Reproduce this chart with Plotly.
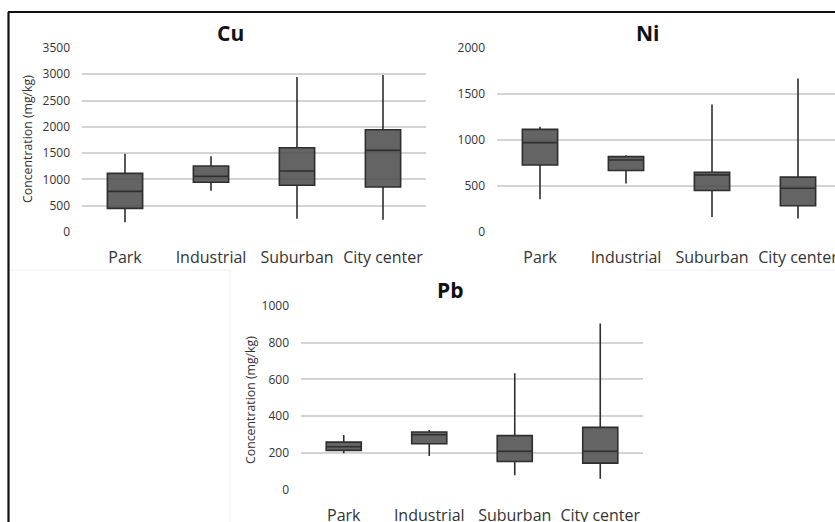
import plotly.graph_objects as go

categories = ["Park", "Industrial", "Suburban", "City center"]

cu_low = [184, 786, 254, 235]
cu_q1 = [450, 945, 888, 856]
cu_med = [773, 1059, 1160, 1553]
cu_q3 = [1116, 1255, 1604, 1946]
cu_high = [1490, 1439, 2948, 2986]

ni_low = [357, 527, 162, 148]
ni_q1 = [729, 668, 451, 285]
ni_med = [971, 783, 621, 476]
ni_q3 = [1115, 819, 650, 596]
ni_high = [1144, 834, 1386, 1668]

pb_low = [199, 184, 80, 61]
pb_q1 = [215, 251, 155, 146]
pb_med = [235, 300, 210, 210]
pb_q3 = [260, 315, 295, 340]
pb_high = [298, 325, 633, 904]

W, H = 835, 522
FONT = "Open Sans"
TXT = "#333333"


def px(x):
    return x / W


def py(y):
    return 1 - y / H


fig = go.Figure()


def add_box(low, q1, med, q3, high, xa, ya):
    fig.add_trace(go.Box(
        x=categories, lowerfence=low, q1=q1, median=med, q3=q3, upperfence=high,
        xaxis=xa, yaxis=ya, width=0.41, whiskerwidth=0,
        fillcolor="rgba(78,78,78,0.88)",
        line=dict(color="#2e2e2e", width=1.6),
        boxpoints=False, showlegend=False, hoverinfo="skip",
    ))


add_box(cu_low, cu_q1, cu_med, cu_q3, cu_high, "x", "y")
add_box(ni_low, ni_q1, ni_med, ni_q3, ni_high, "x2", "y2")
add_box(pb_low, pb_q1, pb_med, pb_q3, pb_high, "x3", "y3")

xcommon = dict(type="category", showgrid=False, zeroline=False, showline=False,
               tickfont=dict(family=FONT, size=16, color=TXT), ticks="",
               ticklabelstandoff=14, automargin=False)
ycommon = dict(showgrid=True, gridcolor="#d4d4d4", gridwidth=1.6, zeroline=False,
               showline=False, tickfont=dict(family=FONT, size=12, color=TXT),
               ticks="", ticklabelstandoff=11, automargin=False)

top_dom = [py(232), py(48)]
fig.update_layout(
    width=W, height=H, margin=dict(l=0, r=0, t=0, b=0, autoexpand=False),
    paper_bgcolor="white", plot_bgcolor="white",
    xaxis=dict(xcommon, domain=[px(82), px(426)], range=[-0.5, 3.5], anchor="y"),
    yaxis=dict(ycommon, domain=top_dom, range=[0, 3500], dtick=500, anchor="x"),
    xaxis2=dict(xcommon, domain=[px(497), 1], range=[-0.5, -0.5 + (835 - 497) / 86], anchor="y2"),
    yaxis2=dict(ycommon, domain=top_dom, range=[0, 2000], dtick=500, anchor="x2"),
    xaxis3=dict(xcommon, domain=[px(301), px(643)], range=[-0.5, 3.5], anchor="y3"),
    yaxis3=dict(ycommon, domain=[py(490), py(305.7)], range=[0, 1000], dtick=200, anchor="x3"),
)

titles = [("Cu", 230, 33), ("Ni", 647, 33), ("Pb", 450, 290)]
for t, x, y in titles:
    fig.add_annotation(text="<b>%s</b>" % t, x=px(x), y=py(y), xref="paper", yref="paper",
                       showarrow=False, xanchor="center", yanchor="middle",
                       font=dict(family=FONT, size=21, color="#111111"))

for x, y in [(27, 139), (250, 400)]:
    fig.add_annotation(text="Concentration (mg/kg)", x=px(x), y=py(y), xref="paper", yref="paper",
                       showarrow=False, textangle=-90, xanchor="center", yanchor="middle",
                       font=dict(family=FONT, size=12.3, color=TXT))

# frame lines
fig.add_shape(type="line", xref="paper", yref="paper", x0=px(8), x1=1, y0=py(12), y1=py(12),
              line=dict(color="#111111", width=2.2))
fig.add_shape(type="line", xref="paper", yref="paper", x0=px(8.5), x1=px(8.5), y0=py(12), y1=0,
              line=dict(color="#111111", width=2.2))
# faint panel edges
for (x0, y0, x1, y1) in [(10, 270, 230, 270), (230, 270, 230, 522), (645, 270, 835, 270)]:
    fig.add_shape(type="line", xref="paper", yref="paper", x0=px(x0), x1=px(x1), y0=py(y0), y1=py(y1),
                  line=dict(color="#f2f2f2", width=1))

post = ("document.body.style.margin='0';document.body.style.padding='0';"
        "var gd=document.getElementById('{plot_id}');"
        "gd.style.position='absolute';gd.style.left='0px';gd.style.top='0px';")
fig.write_html("out.html", post_script=post, config={"displayModeBar": False})
